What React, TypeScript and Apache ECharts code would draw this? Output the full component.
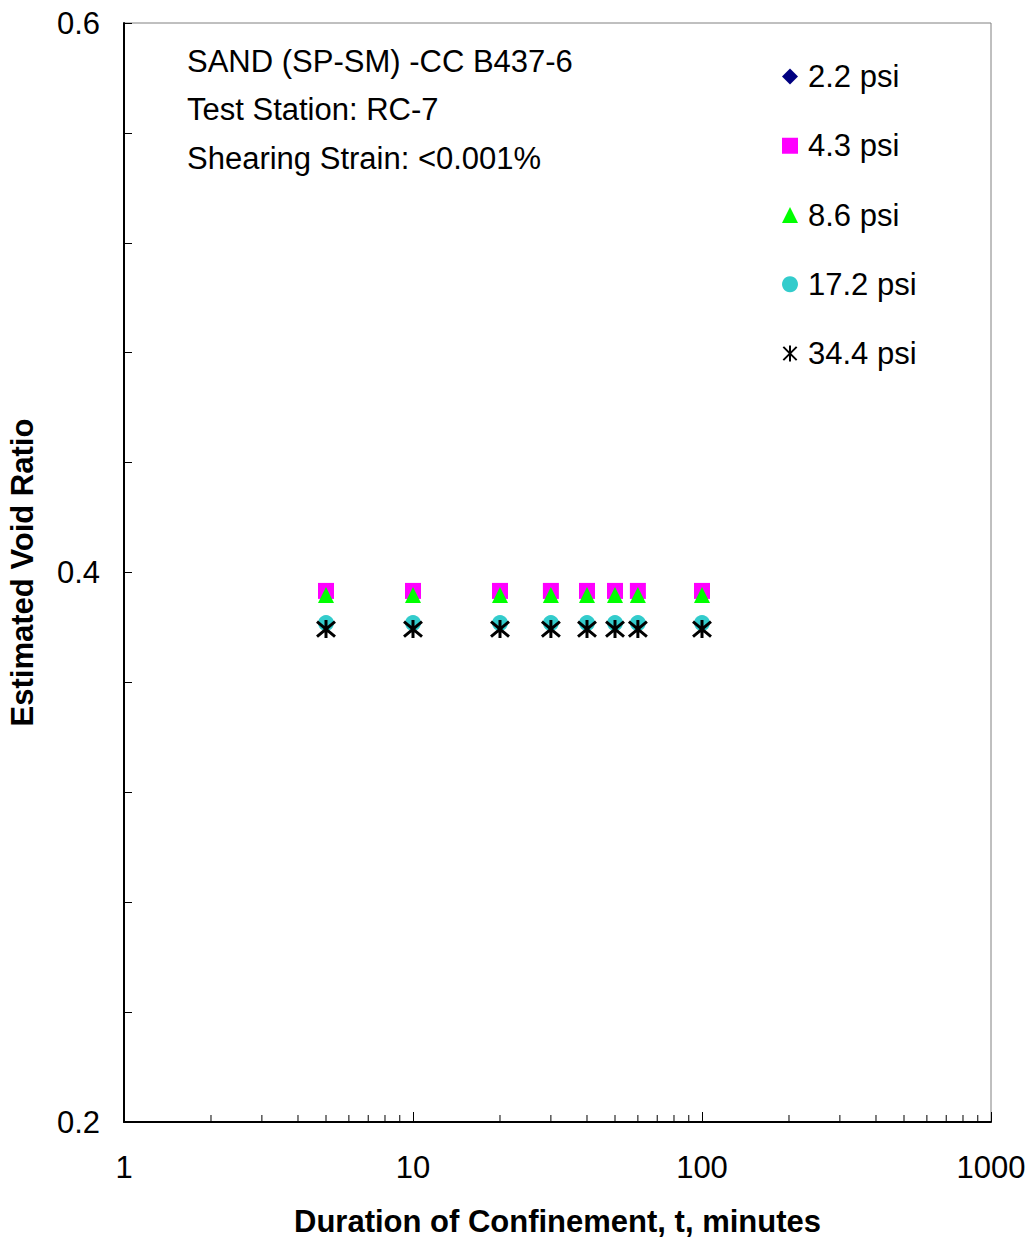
import React, { useEffect, useRef } from "react";
import * as echarts from "echarts";

const durations = [5, 10, 20, 30, 40, 50, 60, 100];
const psi22 = [0.3933, 0.3933, 0.3933, 0.3933, 0.3933, 0.3933, 0.3933, 0.3933];
const psi43 = [0.3933, 0.3933, 0.3933, 0.3933, 0.3933, 0.3933, 0.3933, 0.3933];
const psi86 = [0.3918, 0.3918, 0.3918, 0.3918, 0.3918, 0.3918, 0.3918, 0.3918];
const psi172 = [0.3816, 0.3816, 0.3816, 0.3816, 0.3816, 0.3816, 0.3816, 0.3816];
const psi344 = [0.3794, 0.3794, 0.3794, 0.3794, 0.3794, 0.3794, 0.3794, 0.3794];
const seriesNames = ["2.2 psi", "4.3 psi", "8.6 psi", "17.2 psi", "34.4 psi"];
const xMinorTicks = [2, 3, 4, 5, 6, 7, 8, 9, 20, 30, 40, 50, 60, 70, 80, 90, 200, 300, 400, 500, 600, 700, 800, 900];
const yLabelValues = [0.2, 0.4, 0.6];
const notes = ["SAND (SP-SM) -CC B437-6", "Test Station: RC-7", "Shearing Strain: <0.001%"];

const ASTERISK = "path://M0,0L10,10M10,0L0,10M5,-1L5,11";
const FONT = "Arial, 'Liberation Sans', sans-serif";
const FS = 31;

export default function App() {
  const ref = useRef<HTMLDivElement>(null);
  useEffect(() => {
    const chart = echarts.init(ref.current!, null, { renderer: "svg" });
    const pair = (ys: number[]) => durations.map((x, i) => [x, ys[i]]);
    chart.setOption({
      animation: false,
      backgroundColor: "#fff",
      textStyle: { fontFamily: FONT },
      grid: {
        left: 124,
        right: 41,
        top: 23,
        bottom: 119,
        show: true,
        borderColor: "#808080",
        borderWidth: 1,
        containLabel: false,
        outerBoundsMode: "none",
      },
      legend: {
        orient: "vertical",
        left: 782,
        top: 61,
        padding: 0,
        itemGap: 38.25,
        itemWidth: 16,
        itemHeight: 16,
        textStyle: { fontSize: FS, lineHeight: 31, color: "#000", fontFamily: FONT, padding: [0, 0, 0, 5] },
        data: seriesNames,
      },
      graphic: notes.map((t, i) => ({
        type: "text",
        x: 187,
        y: 61 + i * 48.5,
        style: { text: t, fontSize: FS, fill: "#000", fontFamily: FONT, verticalAlign: "middle" },
      })),
      xAxis: {
        type: "log",
        logBase: 10,
        min: 1,
        max: 1000,
        name: "Duration of Confinement, t, minutes",
        nameLocation: "middle",
        nameGap: 84,
        nameTextStyle: { fontSize: FS, fontWeight: "bold", color: "#000", fontFamily: FONT },
        axisLine: { lineStyle: { color: "#000", width: 2 } },
        axisTick: { inside: true, length: 10, lineStyle: { color: "#000" } },
        axisLabel: { fontSize: FS, color: "#000", margin: 30, fontFamily: FONT, formatter: (v: number) => String(v) },
        splitLine: { show: false },
      },
      yAxis: {
        type: "value",
        min: 0.2,
        max: 0.6,
        interval: 0.04,
        name: "Estimated Void Ratio",
        nameLocation: "middle",
        nameGap: 86,
        nameTextStyle: { fontSize: FS, fontWeight: "bold", color: "#000", fontFamily: FONT },
        axisLine: { lineStyle: { color: "#000", width: 2 } },
        axisTick: { inside: true, length: 8, lineStyle: { color: "#000" } },
        axisLabel: {
          fontSize: FS,
          color: "#000",
          margin: 24,
          fontFamily: FONT,
          formatter: (v: number) =>
            yLabelValues.some((l) => Math.abs(l - v) < 1e-6) ? v.toFixed(1) : "",
        },
        splitLine: { show: false },
      },
      series: [
        {
          type: "custom",
          silent: true,
          data: xMinorTicks.map((v) => [v, 0.2]),
          renderItem: (params: any, api: any) => {
            const p = api.coord([api.value(0), api.value(1)]);
            return {
              type: "line",
              shape: { x1: p[0], y1: p[1], x2: p[0], y2: p[1] - 7 },
              style: { stroke: "#000", lineWidth: 1 },
            };
          },
          z: 1,
        },
        {
          name: seriesNames[0],
          type: "scatter",
          data: pair(psi22),
          symbol: "diamond",
          symbolSize: 13,
          itemStyle: { color: "#000080", opacity: 1 },
          z: 2,
        },
        {
          name: seriesNames[1],
          type: "scatter",
          data: pair(psi43),
          symbol: "rect",
          symbolSize: 16,
          itemStyle: { color: "#FF00FF", opacity: 1 },
          z: 3,
        },
        {
          name: seriesNames[2],
          type: "scatter",
          data: pair(psi86),
          symbol: "triangle",
          symbolSize: 16,
          itemStyle: { color: "#00FF00", opacity: 1 },
          z: 4,
        },
        {
          name: seriesNames[3],
          type: "scatter",
          data: pair(psi172),
          symbol: "circle",
          symbolSize: 16,
          itemStyle: { color: "#33CCCC", opacity: 1 },
          z: 5,
        },
        {
          name: seriesNames[4],
          type: "scatter",
          data: pair(psi344),
          symbol: ASTERISK,
          symbolSize: 18,
          itemStyle: { color: "transparent", borderColor: "#000", borderWidth: 3, opacity: 1 },
          z: 6,
        },
      ],
    });
    return () => chart.dispose();
  }, []);
  return (
    <div
      ref={ref}
      style={{ position: "fixed", left: 0, top: 0, width: 1032, height: 1241, background: "#fff" }}
    />
  );
}
